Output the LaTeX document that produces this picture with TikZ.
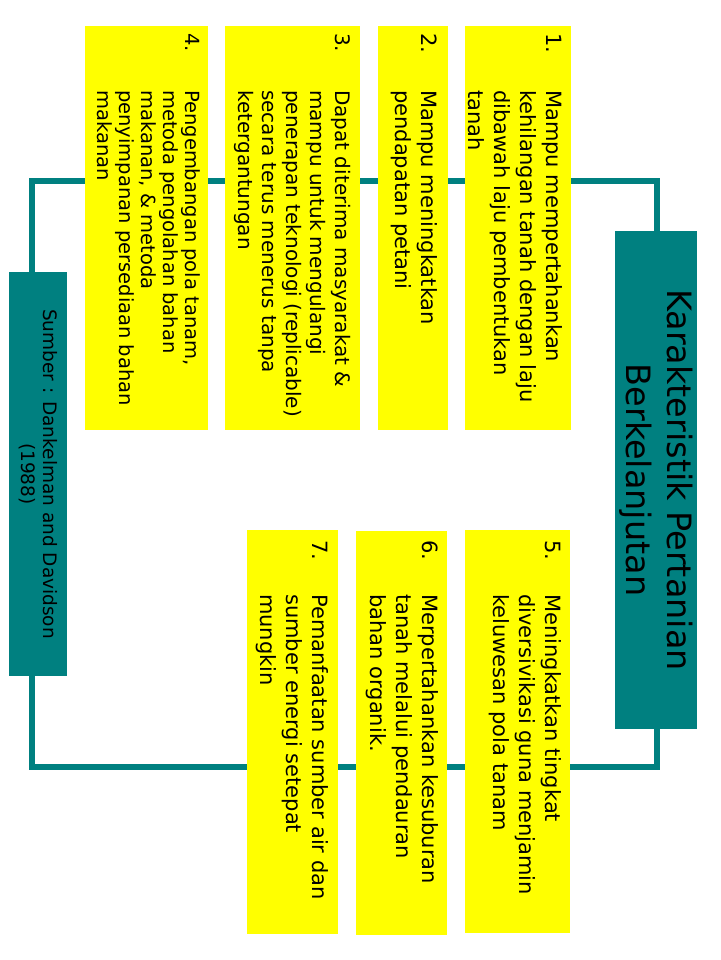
\documentclass[tikz,border=0pt]{standalone}
\usepackage{fontspec}
\setmainfont{DejaVu Sans}
\usetikzlibrary{backgrounds}
\definecolor{tealc}{RGB}{0,128,128}
\definecolor{yelc}{RGB}{255,255,0}
\begin{document}
\begin{tikzpicture}[x=1pt,y=-1pt,
  ybox/.style={fill=yelc, draw=none, inner sep=0pt, outer sep=0pt, anchor=north west},
  tbox/.style={fill=tealc, draw=none, inner sep=0pt, outer sep=0pt, anchor=north west},
  conn/.style={draw=tealc, line width=6pt},
  rtxt/.style={rotate=-90, anchor=base west, inner sep=0pt, align=left},
  fa/.style={font=\fontsize{21}{26}\selectfont},
  fb/.style={font=\fontsize{20}{24.2}\selectfont},
  fc/.style={font=\fontsize{19.5}{21.8}\selectfont}]
\useasboundingbox (0,0) rectangle (720,960);
% boxes
\node[ybox, minimum width=106pt, minimum height=404pt] (b1) at (465,26) {};
\node[ybox, minimum width=70pt,  minimum height=404pt] (b2) at (378,26) {};
\node[ybox, minimum width=135pt, minimum height=404pt] (b3) at (225,26) {};
\node[ybox, minimum width=123pt, minimum height=404pt] (b4) at (85,26) {};
\node[ybox, minimum width=105pt, minimum height=403pt] (b5) at (465,530) {};
\node[ybox, minimum width=91pt,  minimum height=404pt] (b6) at (356,531) {};
\node[ybox, minimum width=91pt,  minimum height=404pt] (b7) at (247,530) {};
\node[tbox, minimum width=82pt,  minimum height=498pt] (title) at (615,231) {};
\node[tbox, minimum width=58pt,  minimum height=404pt] (src) at (9,272) {};
% texts (base anchor = baseline of the last line)
\node[rtxt, fa] (n1) at (546,33) {1.};
\node[rtxt, fa] (t1) at (468,90) {Mampu mempertahankan\\kehilangan tanah dengan laju\\dibawah laju pembentukan\\tanah};
\node[rtxt, fa] (n2) at (421,33) {2.};
\node[rtxt, fa] (t2) at (395,90) {Mampu meningkatkan\\pendapatan petani};
\node[rtxt, fb] (n3) at (335,33) {3.};
\node[rtxt, fb] (t3) at (238.2,90) {Dapat diterima masyarakat \&\\mampu untuk mengulangi\\penerapan teknologi (replicable)\\secara terus menerus tanpa\\ketergantungan};
\node[rtxt, fc] (n4) at (185,33) {4.};
\node[rtxt, fc] (t4) at (97.8,90) {Pengembangan pola tanam,\\metoda pengolahan bahan\\makanan, \& metoda\\penyimpanan persediaan bahan\\makanan};
\node[rtxt, fa] (n5) at (545,540) {5.};
\node[rtxt, fa] (t5) at (493,594) {Meningkatkan tingkat\\diversivikasi guna menjamin\\keluwesan pola tanam};
\node[rtxt, fa] (n6) at (422,540) {6.};
\node[rtxt, fa] (t6) at (370,594) {Merpertahankan kesuburan\\tanah melalui pendauran\\bahan organik.};
\node[rtxt, fa] (n7) at (312,540) {7.};
\node[rtxt, fa] (t7) at (260,594) {Pemanfaatan sumber air dan\\sumber energi setepat\\mungkin};
\node[rotate=-90, align=center, inner sep=0pt, font=\fontsize{33.5}{41}\selectfont] (tt) at (title.center) {Karakteristik Pertanian\\Berkelanjutan};
\node[rotate=-90, align=center, inner sep=0pt, font=\fontsize{18.5}{22}\selectfont] (st) at (src.center) {Sumber : Dankelman and Davidson\\(1988)};
% connectors
\coordinate (tr) at (657,181);
\coordinate (tl) at (32,181);
\coordinate (bl) at (32,767);
\coordinate (br) at (657,767);
\begin{scope}[on background layer]
\draw[conn] (title.north -| tr) -- (tr) -- (tl) -- (src.north -| tl);
\draw[conn] (src.south -| bl) -- (bl) -- (br) -- (title.south -| br);
\end{scope}
\end{tikzpicture}
\end{document}
